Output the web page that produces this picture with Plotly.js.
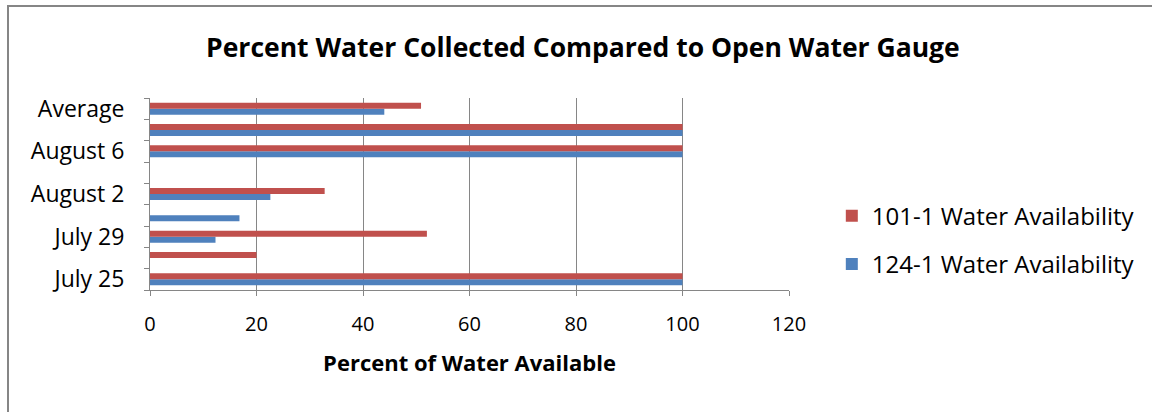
<!DOCTYPE html>
<html>
<head>
<meta charset="utf-8">
<script src="https://cdn.plot.ly/plotly-3.0.1.min.js"></script>
<style>
html,body{margin:0;padding:0;background:#fff;}
#wrap{position:relative;width:1152px;height:412px;overflow:hidden;}
#chart{width:1152px;height:412px;}
#frame{position:absolute;left:7px;top:5px;width:2000px;height:2000px;border-top:2px solid #868686;border-left:2px solid #868686;pointer-events:none;}
</style>
</head>
<body>
<div id="wrap"><div id="chart"></div><div id="frame"></div></div>
<script>
// categories bottom to top (unlabelled rows kept blank)
const categories = ["July 25", "", "July 29", "", "August 2", "", "August 6", "", "Average"];
const series101 = [100, 20, 52, null, 32.8, null, 100, 100, 50.9];
const series124 = [100, null, 12.3, 16.8, 22.6, null, 100, 100, 44.0];
const seriesNames = ["101-1 Water Availability", "124-1 Water Availability"];
const xTicks = [0, 20, 40, 60, 80, 100, 120];

const idx = categories.map((c, i) => i);
const shownVals = idx.filter(i => categories[i] !== "");
const shownText = shownVals.map(i => categories[i]);

const font = "Open Sans, Noto Sans, sans-serif";

const traces = [
  {type: "bar", orientation: "h", name: seriesNames[1], legendgroup: "b", legendrank: 2,
   y: idx, x: series124, marker: {color: "#4f81bd"}},
  {type: "bar", orientation: "h", name: seriesNames[0], legendgroup: "a", legendrank: 1,
   y: idx, x: series101, marker: {color: "#c0504d"}}
];

const layout = {
  width: 1152, height: 412,
  margin: {l: 150, r: 363, t: 98, b: 122},
  paper_bgcolor: "#fff", plot_bgcolor: "#fff",
  barmode: "group", bargap: 0.44, bargroupgap: 0,
  title: {text: "<b>Percent Water Collected Compared to Open Water Gauge</b>",
          font: {family: font, size: 26.5, color: "#000"},
          x: 0.506, xanchor: "center", y: 0.885, yanchor: "middle"},
  xaxis: {range: [0, 120], tickvals: xTicks, ticktext: xTicks.map(String),
          showgrid: true, gridcolor: "#868686", gridwidth: 1,
          showline: true, linecolor: "#868686", linewidth: 1,
          ticks: "outside", ticklen: 5, tickcolor: "#868686",
          zeroline: false, ticklabelstandoff: 11,
          tickfont: {family: font, size: 20, color: "#000"},
          title: {text: "<b>Percent of Water Available</b>", standoff: 19,
                  font: {family: font, size: 22, color: "#000"}},
          fixedrange: true},
  yaxis: {range: [-0.5, categories.length - 0.5],
          tickvals: shownVals, ticktext: shownText,
          ticks: "", showgrid: false, zeroline: false,
          showline: true, linecolor: "#868686", linewidth: 1,
          ticklabelstandoff: 20,
          tickfont: {family: font, size: 23, color: "#000"},
          minor: {tick0: -0.5, dtick: 1, ticks: "outside", ticklen: 5, tickcolor: "#868686", showgrid: false},
          fixedrange: true},
  legend: {x: 1.067, xanchor: "left", y: 0.26, yanchor: "middle",
           traceorder: "grouped",
           font: {family: font, size: 24, color: "#000"},
           tracegroupgap: 14, itemwidth: 30},
  showlegend: true
};

Plotly.newPlot("chart", traces, layout, {staticPlot: true, displayModeBar: false});
</script>
</body>
</html>
